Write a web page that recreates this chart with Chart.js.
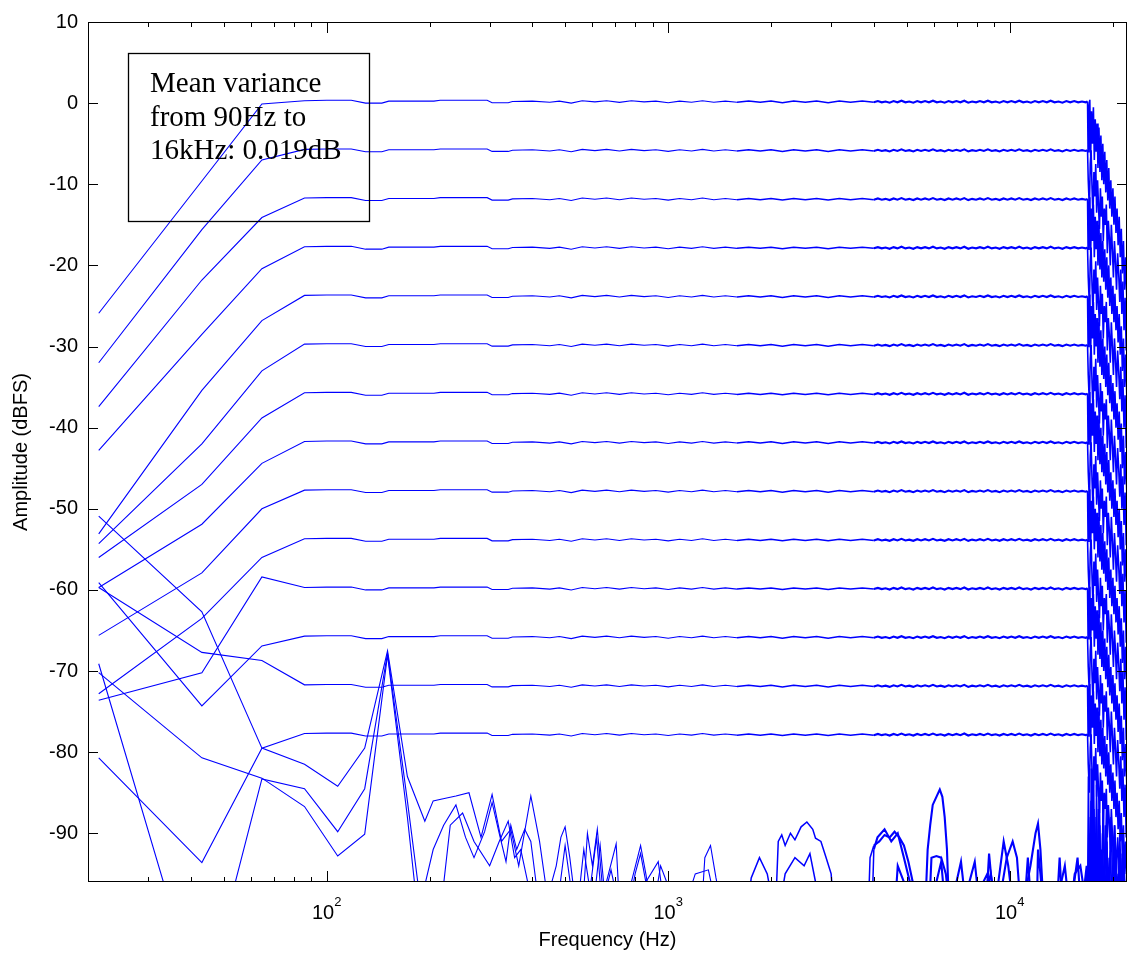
<!DOCTYPE html>
<html>
<head>
<meta charset="utf-8">
<script src="https://cdn.jsdelivr.net/npm/chart.js@4.4.1/dist/chart.umd.min.js"></script>
<style>
  html, body { margin: 0; background: #fff; }
  canvas { display: block; }
</style>
</head>
<body>
<canvas id="chart" width="1130" height="954"></canvas>
<script>
// ---- data ----
const levels = [0, -6, -12, -18, -24, -30, -36, -42, -48, -54, -60, -66, -72, -78];

// low FFT bins, one row per level
const lowHz = [21.5, 43.1, 64.6];
const lowDb = [
  [-25.9,  -9.6,  -0.1],
  [-32.0, -15.6,  -7.0],
  [-37.4, -21.8, -14.1],
  [-42.8, -28.5, -20.4],
  [-53.1, -35.4, -26.8],
  [-54.3, -42.0, -33.0],
  [-56.0, -47.0, -38.8],
  [-59.7, -51.9, -44.4],
  [-65.6, -57.9, -50.0],
  [-72.8, -63.5, -56.0],
  [-73.6, -70.2, -58.4],
  [-59.1, -74.3, -66.9],
  [-59.7, -67.7, -68.7],
  [-80.7, -93.6, -79.5]
];

// passband ripple, dB relative to each level
const passHz = [86.1, 100, 118, 130, 145, 152, 206, 215, 295, 305, 340, 350, 400, 450, 480, 520, 560, 610, 660, 720,
  780, 850, 920, 1000, 1080, 1170, 1260, 1360, 1470, 1590, 1720, 1860, 2000, 2160, 2330, 2520, 2720, 2940, 3170, 3420, 3700,
  4000, 4110, 4220, 4330, 4450, 4570, 4690, 4820, 4950, 5080, 5220, 5360, 5500, 5650, 5800, 5960, 6120, 6280, 6450, 6620,
  6800, 6980, 7170, 7360, 7560, 7760, 7970, 8180, 8400, 8630, 8860, 9100, 9340, 9590, 9850, 10110, 10380, 10660, 10950,
  11240, 11540, 11850, 12170, 12500, 12840, 13180, 13530, 13900, 14270, 14650, 15040, 15450, 15860, 16280, 16700, 16900];
const passDb = [0.3, 0.35, 0.35, 0.0, 0.0, 0.25, 0.25, 0.35, 0.35, 0.05, 0.05, 0.2, 0.25, 0.1, 0.25, 0.0, 0.3, 0.15, 0.3, 0.1,
  0.3, 0.15, 0.25, 0.05, 0.25, 0.1, 0.3, 0.1, 0.25, 0.1, 0.25, 0.1, 0.25, 0.05, 0.25, 0.1, 0.25, 0.05, 0.25, 0.1, 0.25,
  0.1, 0.25, 0.1, 0.2, 0.05, 0.25, 0.1, 0.3, 0.1, 0.2, 0.05, 0.25, 0.1, 0.25, 0.1, 0.3, 0.1, 0.2, 0.05, 0.25,
  0.1, 0.25, 0.1, 0.3, 0.05, 0.2, 0.1, 0.25, 0.1, 0.3, 0.1, 0.2, 0.05, 0.25, 0.1, 0.25, 0.1, 0.3, 0.1,
  0.2, 0.05, 0.25, 0.1, 0.25, 0.1, 0.3, 0.1, 0.2, 0.05, 0.25, 0.1, 0.25, 0.1, 0.2, 0.1, 0.2];

// anti-alias filter roll-off, dB relative to each level (two traced variants, even / odd levels)
const rollHz = [16930, 16960, 17060, 17160, 17260, 17360, 17470, 17580, 17690, 17800, 17910, 18020, 18130, 18250,
  18370, 18490, 18610, 18730, 18850, 18980, 19110, 19240, 19370, 19500, 19630, 19770, 19910, 20050, 20190, 20330,
  20470, 20620, 20770, 20920, 21070, 21220, 21370, 21530, 21690, 21850, 22050];
const rollDb = [0.2, -6.0, -0.5, 0.4, -6.5, -1.0, -5.0, -0.5, -7.0, -2.0, -6.0, -2.5, -8.0, -3.0,
  -8.5, -4.0, -9.5, -5.0, -10.0, -6.0, -11.0, -7.0, -12.0, -8.0, -13.0, -9.5, -14.0, -10.5, -15.0, -11.5,
  -16.0, -13.0, -17.5, -14.0, -19.0, -15.5, -21.0, -17.0, -23.0, -19.0, -25.0];
const rollHzB = [16930, 16980, 17110, 17210, 17310, 17420, 17530, 17640, 17750, 17860, 17970, 18080, 18190, 18310,
  18430, 18550, 18670, 18790, 18920, 19050, 19180, 19310, 19440, 19570, 19700, 19840, 19980, 20120, 20260, 20400,
  20550, 20700, 20850, 21000, 21150, 21300, 21450, 21610, 21770, 21930, 22050];
const rollDbB = [0.2, -3.5, -7.0, -1.5, 0.2, -4.5, -8.0, -2.5, -5.5, -1.5, -7.5, -3.5, -6.5, -9.5,
  -4.5, -8.0, -5.5, -11.0, -7.0, -9.0, -6.5, -12.5, -8.5, -10.5, -14.0, -9.0, -12.0, -15.5, -11.0, -13.5,
  -17.0, -12.5, -15.0, -18.5, -14.5, -20.0, -16.0, -22.0, -18.0, -24.5, -21.5];

// noise-floor traces [Hz, dB]
const noiseA = [[21.5,-50.9],[43.1,-62.7],[64.6,-79.5],[86.1,-81.5],[107.7,-84.2],[129.2,-79.5],[150.7,-67.5],[172.3,-83.0],
  [193.8,-88.5],[205,-86.0],[216,-85.8],[239,-85.4],[261,-85.0],[283,-90.5],[305,-85.2],[325,-91.0],[346,-89.5],[365,-94.0],
  [396,-85.4],[420,-91.0],[440,-97.0],[470,-100],[499,-91.5],[520,-97.0],[545,-100],[600,-100],[632,-91.5],[650,-97.0],
  [704,-91.3],[720,-99.0],[760,-100],[800,-95.0],[830,-92.5],[860,-96.0],[935,-93.5],[980,-100],[1100,-100],[1200,-95.0],
  [1311,-94.5],[1350,-97.0],[1450,-100],[2060,-100],[2100,-91.0],[2150,-90.2],[2200,-91.5],[2280,-90.0],[2350,-90.8],
  [2450,-89.2],[2547,-88.6],[2650,-89.5],[2700,-90.6],[2800,-91.0],[2900,-93.0],[3000,-95.0],[3060,-100],[3850,-100],
  [3900,-93.0],[4000,-91.5],[4150,-91.0],[4300,-90.2],[4450,-90.5],[4600,-89.8],[4750,-90.5],[4900,-91.5],[5050,-93.5],
  [5200,-96.0],[5280,-100],[5650,-100],[5750,-92.0],[5850,-89.0],[5950,-86.5],[6100,-85.5],[6240,-84.6],[6350,-85.5],
  [6450,-88.0],[6550,-92.0],[6650,-100],[7200,-93.5],[7400,-98.0],[7900,-93.5],[8200,-100],[8800,-95.0],[9200,-100],
  [9800,-93.0],[10200,-91.0],[10500,-93.0],[10800,-100],[11500,-94.0],[11900,-90.0],[12100,-88.8],[12300,-92.0],[12600,-100],
  [13500,-100],[14500,-94.0],[15000,-100],[15500,-95.0],[16100,-94.0],[16900,-100],
  [17000,-83],[17150,-100],[17300,-86],[17450,-100],[17600,-82],[17750,-100],[17900,-88],[18050,-100],[18300,-85],
  [18500,-100],[18700,-90],[18900,-100],[19200,-87],[19400,-100],[19700,-92],[20000,-100],[20300,-89],[20600,-100],
  [20900,-94],[21200,-100],[21500,-91],[21800,-100],[22050,-95]];
const noiseB = [[21.5,-70.2],[43.1,-80.7],[64.6,-83.2],[86.1,-86.7],[107.7,-92.8],[129.2,-90.1],[150.7,-68.0],[172.3,-88.0],
  [185,-100],[205,-92.0],[220,-89.0],[239,-86.5],[255,-90.5],[270,-93.0],[290,-89.8],[305,-86.2],[320,-90.0],[335,-93.5],
  [346,-89.0],[360,-92.0],[380,-89.5],[396,-91.0],[410,-96.0],[430,-100],[470,-94.0],[485,-90.5],[499,-89.2],[515,-93.0],
  [540,-100],[566,-92.0],[590,-97.0],[617,-90.5],[640,-99.0],[680,-94.5],[700,-97.0],[740,-100],[900,-100],[950,-94.0],
  [1000,-96.5],[1050,-100],[1250,-100],[1280,-93.0],[1330,-91.5],[1380,-95.5],[1450,-100],[2100,-100],[2200,-95.0],
  [2350,-93.0],[2500,-94.0],[2600,-92.5],[2700,-96.0],[2800,-100],[3950,-100],[4000,-92.0],[4100,-90.5],[4300,-89.5],
  [4500,-91.0],[4700,-90.0],[4900,-93.0],[5100,-96.0],[5300,-100],[5800,-100],[5900,-93.0],[6100,-92.8],[6300,-93.0],
  [6500,-95.0],[6700,-100],[7500,-100],[8600,-95.0],[9000,-100],[9600,-91.0],[9900,-94.0],[10300,-100],[12000,-100],
  [12100,-92.0],[12300,-95.0],[12600,-100],[15000,-100],[15800,-93.0],[16200,-100],[16800,-94.0],[16930,-100],
  [17080,-100],[17220,-88],[17380,-100],[17520,-84],[17680,-100],[17820,-90],[18000,-100],[18180,-87],[18400,-100],
  [18600,-92],[18800,-100],[19050,-89],[19300,-100],[19550,-93],[19850,-100],[20150,-91],[20450,-100],[20750,-95],
  [21050,-100],[21350,-93],[21650,-100],[21950,-96],[22050,-100]];
const noiseC = [[21.5,-69.1],[43.1,-112],[64.6,-83.3],[86.1,-84.5],[107.7,-89.8],[129.2,-84.5],[150.7,-67.8],[172.3,-86.0],
  [190,-100],[215,-100],[230,-89.0],[250,-87.5],[270,-91.0],[300,-94.0],[320,-91.0],[340,-88.5],[355,-93.0],[370,-92.0],
  [390,-96.5],[400,-100],[560,-100],[580,-90.0],[600,-94.0],[620,-89.5],[640,-96.0],[660,-100],[750,-100],[780,-96.0],
  [830,-91.5],[860,-95.0],[900,-100],[1700,-100],[1750,-95.5],[1850,-93.0],[1950,-95.0],[2050,-100],[4600,-100],
  [4700,-94.0],[4900,-96.0],[5100,-100],[6000,-100],[6100,-96.0],[6300,-93.5],[6500,-100],[8500,-100],[8700,-92.5],
  [8900,-97.0],[9200,-100],[11000,-100],[11300,-93.0],[11600,-100],[13700,-100],[14000,-93.0],[14300,-100],[16930,-100],
  [17040,-90],[17190,-100],[17340,-82],[17500,-100],[17650,-87],[17800,-100],[17960,-84],[18120,-100],[18350,-89],
  [18550,-100],[18780,-86],[19000,-100],[19250,-91],[19500,-100],[19800,-88],[20100,-100],[20400,-93],[20700,-100],
  [21000,-90],[21300,-100],[21600,-94],[21900,-100],[22050,-97]];

const yTicks = [-90, -80, -70, -60, -50, -40, -30, -20, -10, 0, 10];
const xMajor = [100, 1000, 10000];
const xMinor = [20, 30, 40, 50, 60, 70, 80, 90, 200, 300, 400, 500, 600, 700, 800, 900,
  2000, 3000, 4000, 5000, 6000, 7000, 8000, 9000, 20000];
const noteLines = ['Mean variance', 'from 90Hz to', '16kHz: 0.019dB'];

// ---- build datasets ----
const BLUE = '#0000ff';
function levelCurve(i) {
  const pts = lowHz.map((f, j) => ({ x: f, y: lowDb[i][j] }));
  passHz.forEach((f, j) => pts.push({ x: f, y: levels[i] + passDb[j] }));
  const rh = i % 2 ? rollHzB : rollHz, rd = i % 2 ? rollDbB : rollDb;
  rh.forEach((f, j) => pts.push({ x: f, y: levels[i] + rd[j] }));
  return pts;
}
// dense FFT bins make the trace look heavier towards high frequencies
function segWidth(c) {
  const f = c.p0.parsed.x;
  if (f >= 16900) return 1.6;
  if (f >= 4000) return 2.1;
  if (f >= 1500) return 1.5;
  return 1.1;
}
const datasets = levels.map((_, i) => ({ data: levelCurve(i) }));
[noiseA, noiseB, noiseC].forEach(n => datasets.push({ data: n.map(p => ({ x: p[0], y: p[1] })) }));
datasets.forEach(d => Object.assign(d, {
  borderColor: BLUE, borderWidth: 1.1, pointRadius: 0, tension: 0, fill: false,
  segment: { borderWidth: segWidth }
}));

const FONT = '"Liberation Sans", Arial, sans-serif';

// MATLAB-ish frame, inward ticks, labels and the note box
const matlabAxes = {
  id: 'matlabAxes',
  afterDatasetsDraw(chart) {
    const { ctx, chartArea: a, scales: { x, y } } = chart;
    ctx.save();
    ctx.strokeStyle = '#000';
    ctx.lineWidth = 1;
    ctx.beginPath();
    yTicks.forEach(v => {
      const py = Math.round(y.getPixelForValue(v)) + 0.5;
      ctx.moveTo(a.left, py); ctx.lineTo(a.left + 10, py);
      ctx.moveTo(a.right, py); ctx.lineTo(a.right - 10, py);
    });
    xMajor.forEach(v => {
      const px = Math.round(x.getPixelForValue(v)) + 0.5;
      ctx.moveTo(px, a.bottom); ctx.lineTo(px, a.bottom - 11);
      ctx.moveTo(px, a.top); ctx.lineTo(px, a.top + 11);
    });
    xMinor.forEach(v => {
      const px = Math.round(x.getPixelForValue(v)) + 0.5;
      ctx.moveTo(px, a.bottom); ctx.lineTo(px, a.bottom - 5);
      ctx.moveTo(px, a.top); ctx.lineTo(px, a.top + 5);
    });
    ctx.stroke();
    ctx.strokeRect(Math.round(a.left) + 0.5, Math.round(a.top) + 0.5,
      Math.round(a.right - a.left) - 1, Math.round(a.bottom - a.top) - 1);

    // x tick labels 10^n
    ctx.fillStyle = '#000';
    ctx.textBaseline = 'alphabetic';
    ctx.textAlign = 'left';
    xMajor.forEach(v => {
      const px = x.getPixelForValue(v);
      const exp = String(Math.round(Math.log10(v)));
      ctx.font = '20px ' + FONT;
      const w1 = ctx.measureText('10').width;
      ctx.font = '13px ' + FONT;
      const w2 = ctx.measureText(exp).width;
      const x0 = px - (w1 + w2) / 2;
      ctx.font = '20px ' + FONT;
      ctx.fillText('10', x0, a.bottom + 37);
      ctx.font = '13px ' + FONT;
      ctx.fillText(exp, x0 + w1, a.bottom + 24);
    });

    // axis titles
    ctx.font = '20px ' + FONT;
    ctx.textAlign = 'center';
    ctx.textBaseline = 'middle';
    ctx.fillText('Frequency (Hz)', (a.left + a.right) / 2, a.bottom + 58);
    ctx.save();
    ctx.translate(21, (a.top + a.bottom) / 2);
    ctx.rotate(-Math.PI / 2);
    ctx.fillText('Amplitude (dBFS)', 0, 0);
    ctx.restore();

    // note box
    const bx = Math.round(a.left) + 40, by = Math.round(a.top) + 31;
    ctx.lineWidth = 1.3;
    ctx.strokeRect(bx + 0.5, by + 0.5, 241, 168);
    ctx.font = '29px "Liberation Serif", "Times New Roman", serif';
    ctx.textAlign = 'left';
    ctx.textBaseline = 'alphabetic';
    noteLines.forEach((t, i) => ctx.fillText(t, bx + 22, by + 39 + i * 33.5));
    ctx.restore();
  }
};

new Chart(document.getElementById('chart'), {
  type: 'line',
  data: { datasets },
  options: {
    responsive: false,
    animation: false,
    layout: { padding: { left: 0, top: 22, right: 3, bottom: 0 } },
    plugins: { legend: { display: false }, tooltip: { enabled: false } },
    scales: {
      x: {
        type: 'logarithmic', min: 20, max: 22050,
        grid: { display: false, drawTicks: false }, border: { display: false },
        ticks: { display: false },
        afterFit: s => { s.height = 72; }
      },
      y: {
        type: 'linear', min: -96, max: 10,
        grid: { display: false, drawTicks: false }, border: { display: false },
        ticks: { color: '#000', padding: 10, font: { size: 20, family: FONT } },
        afterBuildTicks: s => { s.ticks = yTicks.map(v => ({ value: v })); },
        afterFit: s => { s.width = 88; }
      }
    }
  },
  plugins: [matlabAxes]
});
</script>
</body>
</html>
